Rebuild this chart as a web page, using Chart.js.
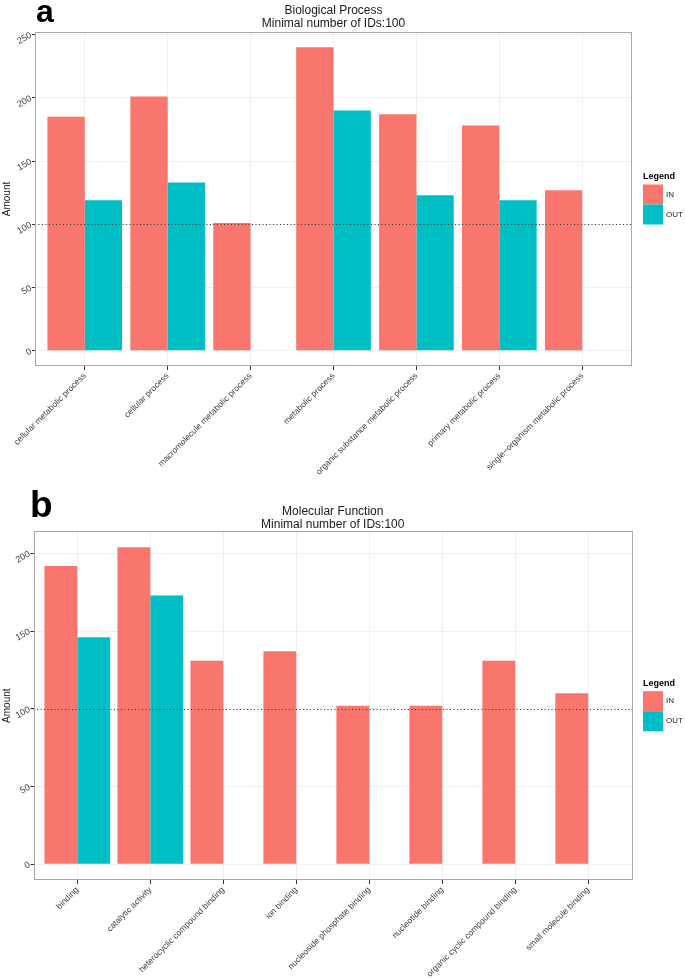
<!DOCTYPE html>
<html><head><meta charset="utf-8">
<script src="https://cdn.jsdelivr.net/npm/chart.js@4"></script>
<style>
html,body{margin:0;padding:0;background:#fff;}
#wrap{position:relative;width:685px;height:978px;overflow:hidden;}
.panel{position:absolute;left:0;width:685px;}
.tag{position:absolute;font-family:'Liberation Sans',Arial,sans-serif;font-weight:bold;line-height:1;color:#000;}
</style></head><body>
<div id="wrap">
<div class="panel" style="top:0;height:490px"><canvas id="ca"></canvas></div>
<div class="panel" style="top:490px;height:488px"><canvas id="cb"></canvas></div>
<div class="tag" style="left:36px;top:-5px;font-size:32px">a</div>
<div class="tag" style="left:30px;top:486px;font-size:37px">b</div>
</div>
<script>
// ---- data ----
const bpCategories = ["cellular metabolic process","cellular process","macromolecule metabolic process","metabolic process","organic substance metabolic process","primary metabolic process","single\u2212organism metabolic process"];
const bpIn  = [185, 201, 101, 240, 187, 178, 127];
const bpOut = [119, 133, null, 190, 123, 119, null];
const bpTitle = ["Biological Process", "Minimal number of IDs:100"];

const mfCategories = ["binding","catalytic activity","heterocyclic compound binding","ion binding","nucleoside phosphate binding","nucleotide binding","organic cyclic compound binding","small molecule binding"];
const mfIn  = [192, 204, 131, 137, 102, 102, 131, 110];
const mfOut = [146, 173, null, null, null, null, null, null];
const mfTitle = ["Molecular Function", "Minimal number of IDs:100"];

const yTickValues = [0, 50, 100, 150, 200, 250];
const threshold = 100;
const seriesNames = ["IN", "OUT"];
const seriesColors = ["#F8766D", "#00BFC4"];
const yAxisTitle = "Amount";
const legendTitle = "Legend";

// ---- styling ----
const FONT = "'Liberation Sans', Arial, Helvetica, sans-serif";
Chart.defaults.font.family = FONT;

const decor = {
  id: 'decor',
  afterDatasetsDraw(chart, args, opts) {
    const {ctx, chartArea: a, scales: {y}} = chart;
    const yp = Math.round(y.getPixelForValue(opts.threshold)) + 0.5;
    ctx.save();
    ctx.strokeStyle = '#333';
    ctx.lineWidth = 1;
    ctx.setLineDash([1, 2.5]);
    ctx.beginPath(); ctx.moveTo(a.left, yp); ctx.lineTo(a.right, yp); ctx.stroke();
    ctx.restore();
  },
  afterDraw(chart, args, opts) {
    const {ctx, chartArea: a} = chart;
    ctx.save();
    ctx.strokeStyle = '#a8a8a8';
    ctx.lineWidth = 1;
    ctx.strokeRect(Math.round(a.left) + 0.5, Math.round(a.top) + 0.5, Math.round(a.right - a.left) - 1, Math.round(a.bottom - a.top) - 1);
    const cy = (a.top + a.bottom) / 2;
    const lx = a.right + 11;
    ctx.fillStyle = '#000';
    ctx.font = "bold 9px " + FONT;
    ctx.textBaseline = 'middle';
    ctx.textAlign = 'left';
    ctx.fillText(opts.title, lx, cy - 22);
    chart.data.datasets.forEach((ds, i) => {
      const top = cy - 14.5 + i * 20;
      ctx.fillStyle = ds.backgroundColor;
      ctx.fillRect(lx, top, 20, 20);
      ctx.fillStyle = '#1a1a1a';
      ctx.font = "8px " + FONT;
      ctx.fillText(ds.label, lx + 23, top + 10);
    });
    ctx.restore();
  }
};

function makeChart(id, cats, inVals, outVals, titleLines, cfg) {
  const all = inVals.concat(outVals).filter(v => v != null);
  const maxV = Math.max(...all);
  const pad = maxV * 0.05;
  const n = cats.length;
  return new Chart(document.getElementById(id), {
    type: 'bar',
    data: {
      labels: cats,
      datasets: [
        {label: seriesNames[0], data: inVals, backgroundColor: seriesColors[0], categoryPercentage: 0.9, barPercentage: 1.0, borderWidth: 0},
        {label: seriesNames[1], data: outVals, backgroundColor: seriesColors[1], categoryPercentage: 0.9, barPercentage: 1.0, borderWidth: 0}
      ]
    },
    options: {
      responsive: true, maintainAspectRatio: false, animation: false,
      layout: {padding: {left: 0, right: 53, top: 0, bottom: 0}},
      plugins: {
        legend: {display: false},
        tooltip: {enabled: false},
        title: {display: true, text: titleLines, fullSize: false, color: '#1a1a1a',
                font: {size: 12, weight: 'normal', lineHeight: 1.1},
                padding: {top: cfg.titleTop, bottom: cfg.titleBottom}},
        decor: {threshold: threshold, title: legendTitle}
      },
      scales: {
        x: {
          type: 'category', offset: true,
          grid: {offset: false, color: '#f0f0f0', tickColor: '#333', tickLength: 4, drawTicks: true},
          border: {display: false},
          ticks: {autoSkip: false, minRotation: 45, maxRotation: 45, font: {size: 8.5}, color: '#3d3d3d', padding: 1},
          beforeTickToLabelConversion(s) { s._startValue = -0.6; s._valueRange = n - 1 + 1.2; },
          afterFit(s) { s.height = cfg.xHeight; s.paddingLeft = 0; s.paddingRight = 0; }
        },
        y: {
          min: -pad, max: maxV + pad,
          grid: {color: '#f0f0f0', tickColor: '#333', tickLength: 3},
          border: {display: false},
          ticks: {minRotation: 30, maxRotation: 30, font: {size: 9}, color: '#3d3d3d', padding: 1},
          afterBuildTicks(s) { s.ticks = yTickValues.filter(v => v <= s.max).map(v => ({value: v})); },
          title: {display: true, text: yAxisTitle, font: {size: 10}, color: '#1a1a1a', padding: {top: 1, bottom: 0}},
          afterFit(s) { s.width = cfg.yWidth; s.paddingTop = 0; s.paddingBottom = 0; }
        }
      }
    },
    plugins: [decor]
  });
}

makeChart('ca', bpCategories, bpIn, bpOut, bpTitle, {titleTop: 4, titleBottom: 1.6, xHeight: 124, yWidth: 35});
makeChart('cb', mfCategories, mfIn, mfOut, mfTitle, {titleTop: 15, titleBottom: 0, xHeight: 98, yWidth: 33.5});
</script>
</body></html>
